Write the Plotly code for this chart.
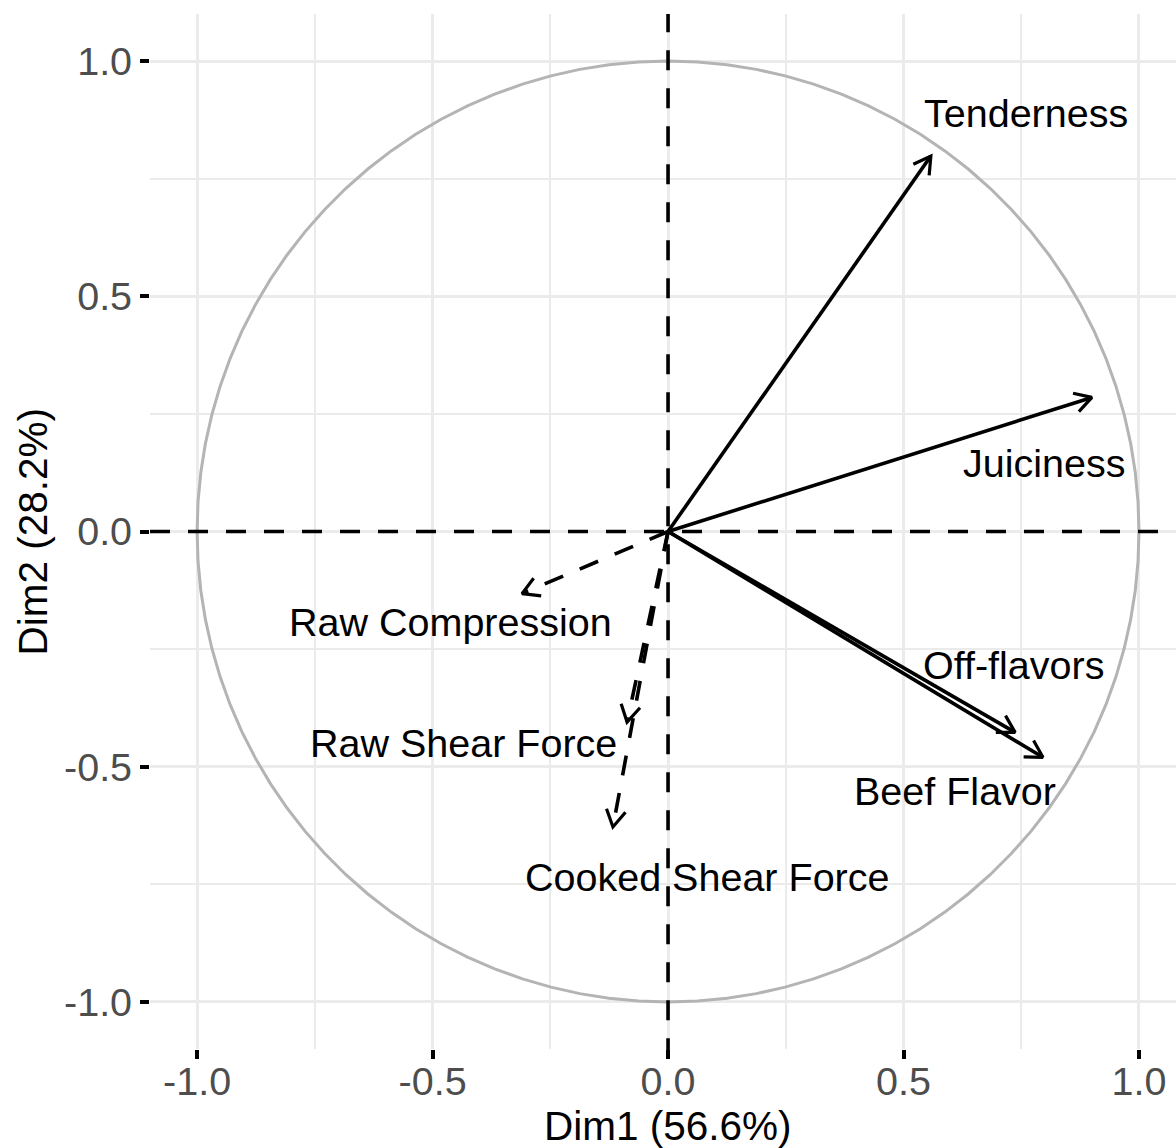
import numpy as np
import plotly.graph_objects as go

# ---- data ----
variables = ["Tenderness", "Juiciness", "Off-flavors", "Beef Flavor",
             "Raw Compression", "Raw Shear Force", "Cooked Shear Force"]
dim1 = [0.558, 0.900, 0.737, 0.796, -0.310, -0.087, -0.117]
dim2 = [0.798, 0.285, -0.427, -0.480, -0.132, -0.405, -0.628]
is_dashed = [False, False, False, False, True, True, True]

x_ticks = [-1.0, -0.5, 0.0, 0.5, 1.0]
y_ticks = [-1.0, -0.5, 0.0, 0.5, 1.0]
tick_text = ["-1.0", "-0.5", "0.0", "0.5", "1.0"]
minor_ticks = [-0.75, -0.25, 0.25, 0.75]
x_title = "Dim1 (56.6%)"
y_title = "Dim2 (28.2%)"

# label offsets from arrow tips, in pixels (layout only)
label_shift = {
    "Tenderness": (95, 43),
    "Juiciness": (-48, -66),
    "Off-flavors": (-2, 67),
    "Beef Flavor": (-88, -34),
    "Raw Compression": (-72, -28),
    "Raw Shear Force": (-164, -21),
    "Cooked Shear Force": (94, -50),
}

FONT = "Liberation Sans, Arial, sans-serif"
W, H = 1176, 1148
ML, MR, MT, MB = 150, 0, 14, 99
XR = [-1.1, 1.0786]
YR = [-1.1, 1.1]
LW = 3.6
DASH = "20px,18px"

fig = go.Figure()

# correlation circle
t = np.linspace(0, 2 * np.pi, 101)
fig.add_trace(go.Scatter(x=np.cos(t), y=np.sin(t), mode="lines",
                         line=dict(color="#B4B4B4", width=3),
                         hoverinfo="skip", showlegend=False))

# reference dashed lines
fig.add_shape(type="line", xref="paper", yref="y", x0=0, x1=1, y0=0, y1=0,
              line=dict(color="black", width=LW, dash=DASH))
fig.add_shape(type="line", xref="x", yref="paper", x0=0, x1=0, y0=-0.009, y1=1,
              line=dict(color="black", width=LW, dash=DASH))

# arrows
head_len = 0.041
ang = np.deg2rad(30)
for name, x, y, dashed in zip(variables, dim1, dim2, is_dashed):
    fig.add_trace(go.Scatter(x=[0, x], y=[0, y], mode="lines",
                             line=dict(color="black", width=LW,
                                       dash=DASH if dashed else "solid"),
                             hoverinfo="skip", showlegend=False))
    theta = np.arctan2(y, x)
    hx = [x - head_len * np.cos(theta + ang), x, x - head_len * np.cos(theta - ang)]
    hy = [y - head_len * np.sin(theta + ang), y, y - head_len * np.sin(theta - ang)]
    fig.add_trace(go.Scatter(x=hx, y=hy, mode="lines",
                             line=dict(color="black", width=LW - 0.4),
                             hoverinfo="skip", showlegend=False))
    dx, dy = label_shift[name]
    fig.add_annotation(x=x, y=y, text=name, showarrow=False,
                       xshift=dx, yshift=dy, xanchor="center", yanchor="middle",
                       font=dict(family=FONT, size=39.5, color="black"))

axis_common = dict(
    showgrid=True, gridcolor="#EBEBEB", gridwidth=3,
    zeroline=False, showline=False,
    ticks="outside", ticklen=9, tickwidth=3.5, tickcolor="black",
    tickfont=dict(family=FONT, size=39.5, color="#4D4D4D"),
    ticktext=tick_text,
    minor=dict(tickvals=minor_ticks, showgrid=True, gridcolor="#EBEBEB",
               gridwidth=1.5, ticks=""),
)

fig.update_xaxes(range=XR, tickvals=x_ticks, ticklabelstandoff=-11, **axis_common)
fig.update_yaxes(range=YR, tickvals=y_ticks, ticklabelstandoff=0, **axis_common)

# axis titles
fig.add_annotation(xref="paper", yref="paper", x=(668 - ML) / (W - ML - MR), y=0,
                   yshift=-77, text=x_title, showarrow=False,
                   xanchor="center", yanchor="middle",
                   font=dict(family=FONT, size=40.5, color="black"))
fig.add_annotation(xref="paper", yref="paper", x=0, y=0.5, xshift=-118,
                   text=y_title, showarrow=False, textangle=-90,
                   xanchor="center", yanchor="middle",
                   font=dict(family=FONT, size=40.5, color="black"))

fig.update_layout(
    width=W, height=H,
    margin=dict(l=ML, r=MR, t=MT, b=MB, autoexpand=False),
    plot_bgcolor="white", paper_bgcolor="white",
    showlegend=False,
)

fig.write_html("out.html", config={"displayModeBar": False},
               post_script="document.body.style.margin='0px';"
                           "document.body.style.overflow='hidden';")
